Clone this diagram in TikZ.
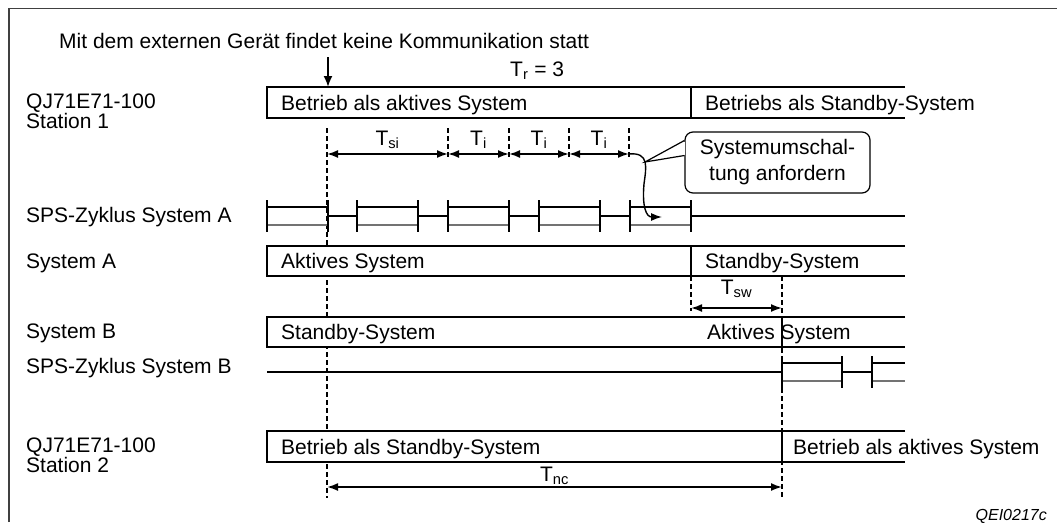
\documentclass[tikz,border=0pt]{standalone}
\usepackage{fontspec}
\setmainfont{Liberation Sans}
\usetikzlibrary{arrows.meta}

\tikzset{
  lbl/.style={anchor=base west, inner sep=0pt},
  rowline/.style={line width=1.2pt},
  tick/.style={line width=2pt},
  guide/.style={dashed, dash pattern=on 5pt off 3pt, line width=1.4pt},
  dim/.style={{Latex[length=11pt,width=8pt]}-{Latex[length=11pt,width=8pt]}, line width=1.8pt},
  dimlbl/.style={midway, anchor=base, inner sep=0pt}
}

\begin{document}
\begin{tikzpicture}[x=1pt, y=-1pt, font=\fontsize{21}{19}\selectfont]
    \useasboundingbox (0,0) rectangle (1057,522);
    \draw[line width=1.2pt, black!75] (9,522) -- (9,8.5) -- (1057,8.5);

    \draw[guide] (327,128) -- (327,498);
    \foreach \x in {448,509,569,629}
      \draw[guide] (\x,128) -- (\x,157);
    \draw[guide] (691,276) -- (691,311);
    \draw[guide] (782,276) -- (782,498);

    \fill[white] (267,87) rectangle (905,118);
    \draw[rowline] (905,87) -- (267,87) -- (267,118) -- (905,118) (691,87) -- (691,118);
    \fill[white] (267,246) rectangle (905,276);
    \draw[rowline] (905,246) -- (267,246) -- (267,276) -- (905,276) (691,246) -- (691,276);
    \fill[white] (267,317) rectangle (905,347);
    \draw[rowline] (905,317) -- (267,317) -- (267,347) -- (905,347) (782,317) -- (782,347);
    \fill[white] (267,431) rectangle (905,462);
    \draw[rowline] (905,431) -- (267,431) -- (267,462) -- (905,462) (782,431) -- (782,462);

    \foreach \x in {267,357,448,539,630} {
      \draw[line width=1.2pt] (\x,207) -- ++(61,0);
      \draw[line width=1.8pt, black!55] (\x,225) -- ++(61,0);
      \draw[tick] (\x,200) -- (\x,232) (\x+61,200) -- (\x+61,232);
    }
    \foreach \x in {328,418,509,600}
      \draw[line width=1.6pt] (\x,216) -- ++(30,0);
    \draw[line width=1.6pt] (691,216) -- (905,216);

    \draw[line width=1.6pt] (267,372) -- (782,372);
    \draw[line width=1.2pt] (782,363) -- (842,363) (872,363) -- (905,363);
    \draw[line width=1.8pt, black!55] (782,381) -- (842,381) (872,381) -- (905,381);
    \draw[line width=1.6pt] (842,372) -- (872,372);
    \draw[tick] (782,356) -- (782,388) (842,356) -- (842,388) (872,356) -- (872,388);

    \node (note) [lbl] at (59,48) {Mit dem externen Gerät findet keine Kommunikation statt};
    \coordinate (from) at (328,57);
    \coordinate (hit) at (328,87);
    \draw[-{Latex[length=11pt,width=9pt]}, line width=1.8pt] (from) -- (hit);
    \node (tr) [lbl] at (510,76) {T\textsubscript{r} = 3};

    \node (st1name) [lbl] at (26,108) {QJ71E71-100};
    \node (st1sub) [lbl] at (26,128) {Station 1};
    \node (spsaname) [lbl] at (26,222) {SPS-Zyklus System A};
    \node (sysaname) [lbl] at (26,268) {System A};
    \node (sysbname) [lbl] at (26,338) {System B};
    \node (spsbname) [lbl] at (26,373) {SPS-Zyklus System B};
    \node (st2name) [lbl] at (26,452) {QJ71E71-100};
    \node (st2sub) [lbl] at (26,472) {Station 2};

    \node (st1l) [lbl] at (281,110) {Betrieb als aktives System};
    \node (st1r) [lbl] at (705,110) {Betriebs als Standby-System};
    \node (sysal) [lbl] at (281,268) {Aktives System};
    \node (sysar) [lbl] at (705,268) {Standby-System};
    \node (sysbl) [lbl] at (281,339) {Standby-System};
    \node (sysbr) [lbl] at (707,339) {Aktives System};
    \node (st2l) [lbl] at (281,454) {Betrieb als Standby-System};
    \node (st2r) [lbl] at (793,454) {Betrieb als aktives System};

    \coordinate (t0) at (327,154);
    \coordinate (t1) at (448,154);
    \coordinate (t2) at (509,154);
    \coordinate (t3) at (569,154);
    \coordinate (t4) at (629,154);
    \draw[dim] (t0) -- (t1) node (tsi) [dimlbl, yshift=9pt] {T\textsubscript{si}};
    \draw[dim] (t1) -- (t2) node (ti1) [dimlbl, yshift=9pt] {T\textsubscript{i}};
    \draw[dim] (t2) -- (t3) node (ti2) [dimlbl, yshift=9pt] {T\textsubscript{i}};
    \draw[dim] (t3) -- (t4) node (ti3) [dimlbl, yshift=9pt] {T\textsubscript{i}};

    \coordinate (w0) at (691,308);
    \coordinate (w1) at (782,308);
    \draw[dim] (w0) -- (w1) node (tsw) [dimlbl, yshift=14pt] {T\textsubscript{sw}};
    \coordinate (n0) at (327,487);
    \coordinate (n1) at (782,487);
    \draw[dim] (n0) -- (n1) node (tnc) [dimlbl, yshift=6pt] {T\textsubscript{nc}};

    \coordinate (kick) at (662,217);
    \draw[-{Latex[length=11pt,width=8pt]}, line width=1.4pt] (t4) .. controls (650,152) and (646,168) .. (644,184) .. controls (642,206) and (646,217) .. (kick);

    \node (req) [draw, line width=1.2pt, rounded corners=8pt, fill=white, minimum width=185pt, minimum height=61pt, align=center, font=\fontsize{21}{26}\selectfont] at (777.5,162.5) {Systemumschal-\\tung anfordern};
    \coordinate (reqtip) at (645,162);
    \fill[white] ([xshift=-1pt, yshift=21pt]req.west) rectangle ([xshift=1pt, yshift=8pt]req.west);
    \draw[line width=1.2pt] ([yshift=22pt]req.west) -- (reqtip) -- ([yshift=7pt]req.west);

    \node (code) [anchor=base east, inner sep=0pt, font=\fontsize{16}{18}\selectfont\itshape] at (1047,520) {QEI0217c};
\end{tikzpicture}
\end{document}
